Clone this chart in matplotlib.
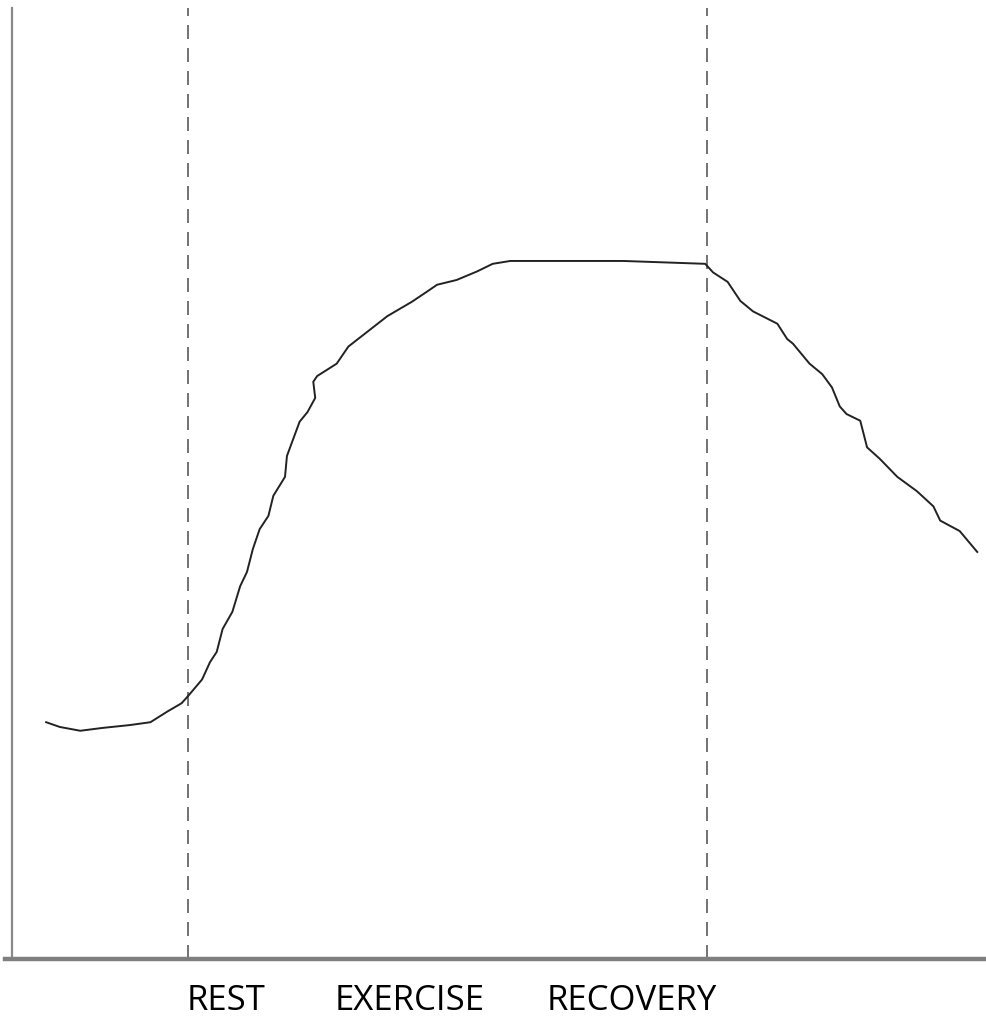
"""Rest / exercise / recovery response curve."""

import matplotlib

matplotlib.use("Agg")
import matplotlib.pyplot as plt

# curve (x: 0-100 time, y: 0-100 response)
time = [
    3.5, 4.9, 7.0, 9.3, 12.1, 14.2, 15.9, 17.4, 18.1, 19.5, 20.3, 21.0,
    21.6, 22.6, 23.4, 24.1, 24.7, 25.4, 26.3, 26.8, 28.0, 28.2, 29.5, 30.3,
    31.1, 30.9, 31.3, 33.3, 34.5, 36.0, 38.5, 39.5, 41.0, 42.6, 43.6, 45.6,
    47.7, 49.3, 51.1, 52.4, 62.7, 71.1, 71.9, 73.4, 74.7, 76.0, 78.5, 79.5,
    80.1, 81.8, 83.1, 84.1, 84.9, 85.6, 87.0, 87.7, 89.0, 90.8, 92.8, 94.5,
    95.2, 97.2, 99.0,
]
response = [
    24.9, 24.4, 24.0, 24.3, 24.6, 24.9, 26.0, 26.9, 27.7, 29.4, 31.2, 32.3,
    34.7, 36.5, 39.2, 40.7, 43.1, 45.2, 46.6, 48.7, 50.7, 52.9, 56.5, 57.5,
    59.0, 60.7, 61.3, 62.6, 64.4, 65.6, 67.6, 68.2, 69.1, 70.2, 70.9, 71.4,
    72.3, 73.1, 73.4, 73.4, 73.4, 73.1, 72.2, 71.2, 69.2, 68.1, 66.8, 65.2,
    64.7, 62.6, 61.5, 60.1, 58.1, 57.3, 56.6, 53.8, 52.6, 50.7, 49.2, 47.6,
    46.1, 45.0, 42.8,
]
phase_bounds = [18.05, 71.3]
phase_labels = ["REST", "EXERCISE", "RECOVERY"]
label_x_px = [226.5, 410, 631.5]

W, H = 987, 1020
fig = plt.figure(figsize=(W / 100, H / 100), dpi=100, facecolor="white")
ax = fig.add_axes([12 / W, 60 / H, 975 / W, 951 / H])
ax.set_xlim(0, 100)
ax.set_ylim(0, 100)

for xb in phase_bounds:
    ax.axvline(xb, color="#5a5a5a", linewidth=1.2, dashes=(8.4, 5.4))

ax.plot(time, response, color="#222222", linewidth=1.4,
        solid_joinstyle="round")

ax.set_xticks([])
ax.set_yticks([])
ax.spines["top"].set_visible(False)
ax.spines["right"].set_visible(False)
ax.spines["left"].set_color("#8a8a8a")
ax.spines["left"].set_linewidth(1.6)
ax.spines["bottom"].set_color("#7f7f7f")
ax.spines["bottom"].set_linewidth(3.2)
ax.spines["bottom"].set_bounds(-0.7, 100)

for label, xp in zip(phase_labels, label_x_px):
    fig.text(xp / W, 1 - 1010 / H, label, ha="center", va="baseline",
             fontsize=25, family="Open Sans", color="black")

fig.savefig("out.png", dpi=100, facecolor="white")
